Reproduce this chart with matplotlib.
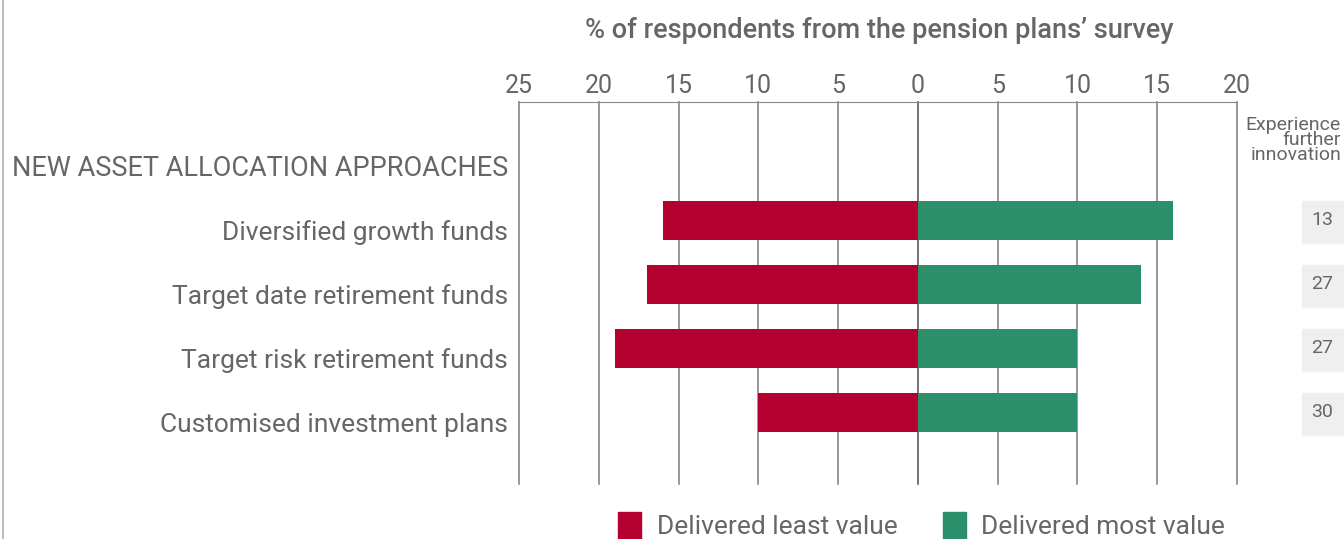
import matplotlib.pyplot as plt
import matplotlib.transforms as mtransforms
import numpy as np

plt.rcParams['font.family'] = ['Roboto', 'DejaVu Sans']

categories = ["NEW ASSET ALLOCATION APPROACHES", "Diversified growth funds",
              "Target date retirement funds", "Target risk retirement funds",
              "Customised investment plans"]
least_value = [np.nan, 16, 17, 19, 10]
most_value = [np.nan, 16, 14, 10, 10]
innovation = ["", "13", "27", "27", "30"]
ticks = [-25, -20, -15, -10, -5, 0, 5, 10, 15, 20]
tick_labels = ["25", "20", "15", "10", "5", "0", "5", "10", "15", "20"]

red = "#B4002E"
green = "#2B8F6B"
grey = "#666666"

fig = plt.figure(figsize=(13.44, 5.39), dpi=100)
W, H = 1344, 539
ax = fig.add_axes([519 / W, 1 - 484 / H, (1237 - 519) / W, (484 - 102) / H])

y = np.arange(len(categories))
least = -np.array(least_value, dtype=float)
most = np.array(most_value, dtype=float)
ax.barh(y, least, height=0.61, color=red, zorder=3)
ax.barh(y, most, height=0.61, color=green, zorder=3)

ax.set_xlim(-25, 20)
ax.set_ylim(5.117, -0.852)
ax.set_xticks(ticks)
ax.set_xticklabels(tick_labels)
ax.xaxis.tick_top()
ax.tick_params(axis='x', length=0, pad=3, labelsize=18, labelcolor=grey)
ax.set_yticks([])
for s in ax.spines.values():
    s.set_visible(False)
ax.spines['top'].set_visible(True)
ax.spines['top'].set_color("#888888")
for t in ticks:
    ax.axvline(t, color="#888888" if t != 0 else "#5a5a5a", lw=1.2, zorder=1, clip_on=False)

# category labels sit a little below the bar centres
lab_tr = mtransforms.offset_copy(ax.get_yaxis_transform(), fig=fig, x=-11, y=-12, units='dots')
for i, cat in enumerate(categories):
    ax.text(0, y[i], cat, transform=lab_tr, ha="right", va="center",
            fontsize=19.5 if i == 0 else 19, color=grey)

fig.text(879 / W, 1 - 30 / H,
         "% of respondents from the pension plans\u2019 survey",
         ha="center", va="center", fontsize=19.5, color=grey, fontweight="medium")

# right column
fig.text(1341 / W, 1 - 140 / H, "Experience\nfurther\ninnovation", ha="right", va="center",
         fontsize=14, color=grey, linespacing=0.8)
for i, lab in enumerate(innovation):
    if not lab:
        continue
    yc = ax.transData.transform((0, y[i]))[1] / H
    fig.patches.append(plt.Rectangle((1302 / W, yc - 22 / H), 42 / W, 42 / H,
                                     transform=fig.transFigure, color="#EFEFEF", zorder=0))
    fig.text(1322 / W, yc + 1 / H, lab, ha="center", va="center", fontsize=14, color=grey)

# left border
fig.add_artist(plt.Line2D([3 / W, 3 / W], [0, 1], color="#BBBBBB", lw=1.5))

# legend
fig.patches.append(plt.Rectangle((618 / W, 0), 23 / W, 27 / H, transform=fig.transFigure, color=red))
fig.text(657 / W, 12 / H, "Delivered least value", ha="left", va="center", fontsize=19, color=grey)
fig.patches.append(plt.Rectangle((943 / W, 0), 23 / W, 27 / H, transform=fig.transFigure, color=green))
fig.text(981 / W, 12 / H, "Delivered most value", ha="left", va="center", fontsize=19, color=grey)

fig.savefig("out.png", dpi=100)
